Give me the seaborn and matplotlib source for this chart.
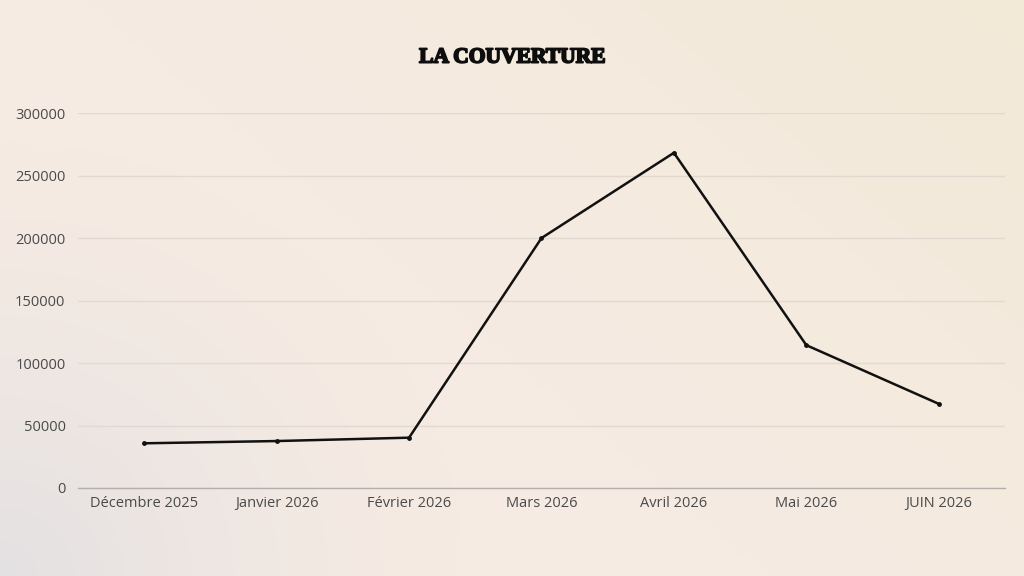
import numpy as np
import matplotlib
matplotlib.use("Agg")
import matplotlib.pyplot as plt
import matplotlib.patheffects as pe
import seaborn as sns
from matplotlib.colors import to_rgb

# Chart data
months = ["Décembre 2025", "Janvier 2026", "Février 2026", "Mars 2026",
          "Avril 2026", "Mai 2026", "JUIN 2026"]
couverture = [35800, 37600, 40300, 200200, 268500, 114400, 67400]
y_ticks = [0, 50000, 100000, 150000, 200000, 250000, 300000]

sns.set_theme(style="white")
plt.rcParams["font.family"] = ["Open Sans", "DejaVu Sans"]

fig = plt.figure(figsize=(10.24, 5.76), dpi=100)

# Soft background: pinkish cream body, cream towards the top right,
# grey in the bottom-left corner
bg = fig.add_axes([0, 0, 1, 1], zorder=0)
gx, gy = np.meshgrid(np.linspace(0, 1, 320), np.linspace(0, 1, 180))
base = np.array(to_rgb("#f6ebe3"))
cream = np.array(to_rgb("#f2e9d7"))
grey = np.array(to_rgb("#e4e1e2"))
w_cream = np.clip((gx * 0.6 + gy * 0.4 - 0.45) / 0.55, 0, 1)[..., None]
d_grey = np.sqrt((gx / 0.45) ** 2 + (gy / 0.75) ** 2)
w_grey = np.clip(1 - d_grey, 0, 1)[..., None] ** 1.3
img = base * (1 - w_cream) + cream * w_cream
img = img * (1 - w_grey) + grey * w_grey
bg.imshow(img, origin="lower", aspect="auto", extent=[0, 1, 0, 1],
          interpolation="bilinear")
bg.axis("off")

ax = fig.add_axes([0.0762, 0.1528, 0.9052, 0.6502], zorder=1)
ax.patch.set_alpha(0)

sns.lineplot(x=months, y=couverture, ax=ax, color="#111111", linewidth=1.8,
             marker="o", markersize=3.5, markeredgewidth=0, sort=False)

ax.set_xlim(-0.5, len(months) - 0.5)
ax.set_ylim(0, 300000)
ax.set_yticks(y_ticks)
ax.set_yticklabels([str(t) for t in y_ticks])
ax.grid(axis="y", color="#e2d9d1", linewidth=1)
ax.grid(axis="x", visible=False)
ax.set_axisbelow(True)

for side in ["top", "right", "left"]:
    ax.spines[side].set_visible(False)
ax.spines["bottom"].set_color("#b5afab")
ax.spines["bottom"].set_linewidth(1)

ax.tick_params(axis="both", length=0, labelsize=10.5, labelcolor="#4a4a4a")
ax.tick_params(axis="y", pad=9)
ax.tick_params(axis="x", pad=6)
ax.set_xlabel("")
ax.set_ylabel("")

fig.text(0.5, 0.9, "LA COUVERTURE", ha="center", va="center",
         fontsize=15.5, fontweight="bold", color="#0d0d0d",
         family=["Liberation Serif", "DejaVu Serif"],
         path_effects=[pe.withStroke(linewidth=1.3, foreground="#0d0d0d")])

fig.savefig("out.png", dpi=100)
